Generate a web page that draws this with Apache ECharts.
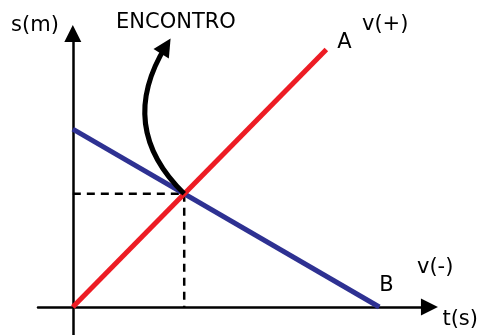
<!DOCTYPE html>
<html>
<head>
<meta charset="utf-8">
<script src="https://cdn.jsdelivr.net/npm/echarts@6/dist/echarts.min.js"></script>
<style>html,body{margin:0;padding:0;background:#fff}#c{width:481px;height:335px}</style>
</head>
<body>
<div id="c"></div>
<script>
// Mobile A: v(+)
const timeA = [0, 9.1];
const posA = [0, 9.2];
// Mobile B: v(-)
const timeB = [0, 11];
const posB = [6.35, 0];
// Annotation arrow tip (data units)
const encontroTip = [3.34, 9.32];
const labels = { y: 's(m)', x: 't(s)', a: 'A', b: 'B', va: 'v(+)', vb: 'v(-)', meet: 'ENCONTRO' };

// intersection of the two lines
const mA = (posA[1] - posA[0]) / (timeA[1] - timeA[0]);
const mB = (posB[1] - posB[0]) / (timeB[1] - timeB[0]);
const tI = (posB[0] - posA[0]) / (mA - mB);
const sI = posA[0] + mA * tI;

const FONT = 'DejaVu Sans';
const FS = 21;
const chart = echarts.init(document.getElementById('c'));
chart.setOption({
  animation: false,
  grid: { left: 38, right: 49.5, top: 33.5, bottom: 0, containLabel: false },
  xAxis: {
    type: 'value', min: -1.25, max: 12.8,
    axisLine: { onZero: true, symbol: ['none', 'triangle'], symbolSize: [17, 17], lineStyle: { color: '#000', width: 2.5 } },
    axisTick: { show: false }, axisLabel: { show: false }, splitLine: { show: false },
    name: labels.x, nameLocation: 'end', nameGap: 13,
    nameTextStyle: { fontFamily: FONT, fontSize: FS, color: '#000', align: 'left', verticalAlign: 'top', padding: [2, 0, 0, 0] }
  },
  yAxis: {
    type: 'value', min: -1, max: 9.768,
    axisLine: { onZero: true, symbol: ['none', 'triangle'], symbolSize: [17, 17], lineStyle: { color: '#000', width: 2.5 } },
    axisTick: { show: false }, axisLabel: { show: false }, splitLine: { show: false },
    name: labels.y, nameLocation: 'end', nameGap: 8,
    nameTextStyle: { fontFamily: FONT, fontSize: FS, color: '#000', align: 'right', verticalAlign: 'middle', padding: [0, 14, 0, 0] }
  },
  series: [
    {
      type: 'line', data: [[0, sI], [tI, sI]], showSymbol: false, silent: true,
      lineStyle: { color: '#000', width: 2.5, type: [8, 6] }, z: 1
    },
    {
      type: 'line', data: [[tI, sI], [tI, 0]], showSymbol: false, silent: true,
      lineStyle: { color: '#000', width: 2.5, type: [8, 6] }, z: 1
    },
    {
      type: 'line', data: timeB.map((t, i) => [t, posB[i]]), showSymbol: false,
      lineStyle: { color: '#2e3192', width: 5 }, z: 3,
      endLabel: { show: true, formatter: labels.b, distance: 0, offset: [0, -21], fontFamily: FONT, fontSize: FS, color: '#000' }
    },
    {
      type: 'line', data: timeA.map((t, i) => [t, posA[i]]), showSymbol: false,
      lineStyle: { color: '#ed1c24', width: 5 }, z: 4,
      endLabel: { show: true, formatter: labels.a, distance: 0, offset: [11, -7], fontFamily: FONT, fontSize: FS, color: '#000' }
    },
    {
      type: 'lines', coordinateSystem: 'cartesian2d', z: 5,
      symbol: ['none', 'triangle'], symbolSize: 18,
      lineStyle: { color: '#000', width: 5, curveness: 0.4, opacity: 1 },
      data: [{ coords: [[tI, sI], encontroTip] }]
    }
  ],
  graphic: [
    { type: 'text', x: 116, y: 23, style: { text: labels.meet, font: FS + 'px "DejaVu Sans"', fill: '#000', verticalAlign: 'middle' } },
    { type: 'text', x: 362, y: 25, style: { text: labels.va, font: FS + 'px "DejaVu Sans"', fill: '#000', verticalAlign: 'middle' } },
    { type: 'text', x: 417, y: 268, style: { text: labels.vb, font: FS + 'px "DejaVu Sans"', fill: '#000', verticalAlign: 'middle' } }
  ]
});
</script>
</body>
</html>
